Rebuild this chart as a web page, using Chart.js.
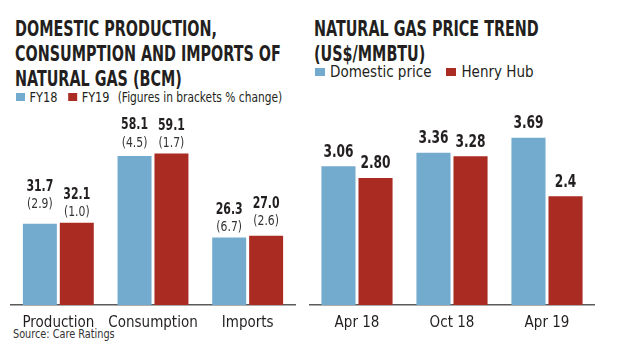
<!DOCTYPE html>
<html>
<head>
<meta charset="utf-8">
<script src="https://cdn.jsdelivr.net/npm/chart.js@4.4.1/dist/chart.umd.min.js"></script>
<style>
  body { margin: 0; background: #fff; width: 618px; height: 358px; overflow: hidden; position: relative;
         font-family: "DejaVu Sans Condensed", "DejaVu Sans", sans-serif; color: #231f20; }
  .squeeze { position: absolute; white-space: nowrap; transform-origin: 0 0; }
  .title { top: 17px; font-weight: bold; font-size: 21px; line-height: 25px; transform: scaleX(0.76); }
  .legend { display: flex; align-items: center; }
  .box { display: inline-block; width: 10px; height: 8px; margin-right: 5px; }
  .src { left: 13px; top: 327px; font-size: 12px; color: #333; transform: scaleX(0.9); }
  canvas { position: absolute; }
</style>
</head>
<body>
<div class="squeeze title" style="left:15px">DOMESTIC PRODUCTION,<br>CONSUMPTION AND IMPORTS OF<br>NATURAL GAS (BCM)</div>
<div class="squeeze legend" style="left:16px; top:89px; font-size:14px; transform:scaleX(0.9)">
  <span class="box" style="background:#72abcd"></span><span style="margin-right:12px">FY18</span>
  <span class="box" style="background:#aa2b22"></span><span style="margin-right:9px">FY19</span>
  <span style="font-size:14px; transform:scaleX(0.94); transform-origin:0 50%; display:inline-block">(Figures in brackets % change)</span>
</div>
<div class="squeeze title" style="left:314px">NATURAL GAS PRICE TREND<br>(US$/MMBTU)</div>
<div class="squeeze legend" style="left:315px; top:63px; font-size:15px">
  <span class="box" style="background:#72abcd"></span><span style="margin-right:15px">Domestic price</span>
  <span class="box" style="background:#aa2b22"></span><span>Henry Hub</span>
</div>
<div class="squeeze src">Source: Care Ratings</div>
<canvas id="leftChart" width="305" height="240" style="left:0; top:100px"></canvas>
<canvas id="rightChart" width="313" height="240" style="left:305px; top:100px"></canvas>
<script>
const gasCategories = ['Production', 'Consumption', 'Imports'];
const fy18Values = [31.7, 58.1, 26.3];
const fy19Values = [32.1, 59.1, 27.0];
const fy18Change = ['(2.9)', '(4.5)', '(6.7)'];
const fy19Change = ['(1.0)', '(1.7)', '(2.6)'];

const priceDates = ['Apr 18', 'Oct 18', 'Apr 19'];
const domesticPrice = [3.06, 3.36, 3.69];
const henryHub = [2.80, 3.28, 2.4];
const henryHubText = ['2.80', '3.28', '2.4'];

const BLUE = '#72abcd';
const RED = '#aa2b22';
const FONT = '"DejaVu Sans Condensed", "DejaVu Sans", sans-serif';

// narrow text, the print font is a condensed face
const squeezeText = (ctx, text, x, y, sx) => {
  ctx.save();
  ctx.translate(x, y);
  ctx.scale(sx, 1);
  ctx.fillText(text, 0, 0);
  ctx.restore();
};

// value (and bracket note) above every bar
const barLabels = {
  id: 'barLabels',
  afterDatasetsDraw(chart, args, opts) {
    const ctx = chart.ctx;
    ctx.save();
    ctx.textAlign = 'center';
    ctx.textBaseline = 'middle';
    chart.data.datasets.forEach((ds, i) => {
      const lift = opts.lift ? opts.lift[i] : [0, 0, 0];
      chart.getDatasetMeta(i).data.forEach((bar, j) => {
        const text = ds.texts ? ds.texts[j] : ds.data[j].toFixed(opts.digits);
        let y = bar.y - opts.gap - lift[j];
        if (ds.notes) {
          ctx.font = '14px ' + FONT;
          ctx.fillStyle = '#333';
          squeezeText(ctx, ds.notes[j], bar.x, y, 0.86);
          y -= 18;
        }
        ctx.font = 'bold ' + opts.size + 'px ' + FONT;
        ctx.fillStyle = '#231f20';
        squeezeText(ctx, text, bar.x, y, opts.squeeze);
      });
    });
    ctx.restore();
  }
};

const makeOptions = (yMax, labelOpts, padding) => ({
  responsive: false,
  animation: false,
  layout: { padding: padding },
  plugins: {
    legend: { display: false },
    tooltip: { enabled: false },
    barLabels: labelOpts
  },
  scales: {
    x: {
      grid: { display: false, drawTicks: false },
      border: { display: true, color: '#5a5a5a', width: 1.5 },
      ticks: { color: '#231f20', font: { family: FONT, size: 15 }, padding: 9, maxRotation: 0, autoSkip: false },
      afterFit: s => { s.height = 35; }
    },
    y: { display: false, min: 0, max: yMax }
  }
});

new Chart(document.getElementById('leftChart'), {
  type: 'bar',
  data: {
    labels: gasCategories,
    datasets: [
      { label: 'FY18', data: fy18Values, notes: fy18Change, backgroundColor: BLUE, categoryPercentage: 0.78, barPercentage: 0.92 },
      { label: 'FY19', data: fy19Values, notes: fy19Change, backgroundColor: RED, categoryPercentage: 0.78, barPercentage: 0.92 }
    ]
  },
  options: makeOptions(80,
    { digits: 1, gap: 10, size: 16, squeeze: 0.76, lift: [[9, 3, 0], [0, 0, 4]] },
    { left: 11, right: 10, top: 0, bottom: 0 }),
  plugins: [barLabels]
});

new Chart(document.getElementById('rightChart'), {
  type: 'bar',
  data: {
    labels: priceDates,
    datasets: [
      { label: 'Domestic price', data: domesticPrice, backgroundColor: BLUE, categoryPercentage: 0.78, barPercentage: 0.92 },
      { label: 'Henry Hub', data: henryHub, texts: henryHubText, backgroundColor: RED, categoryPercentage: 0.78, barPercentage: 0.92 }
    ]
  },
  options: makeOptions(4.5,
    { digits: 2, gap: 14, size: 17, squeeze: 0.8 },
    { left: 4.5, right: 23.5, top: 1, bottom: 0 }),
  plugins: [barLabels]
});
</script>
</body>
</html>
